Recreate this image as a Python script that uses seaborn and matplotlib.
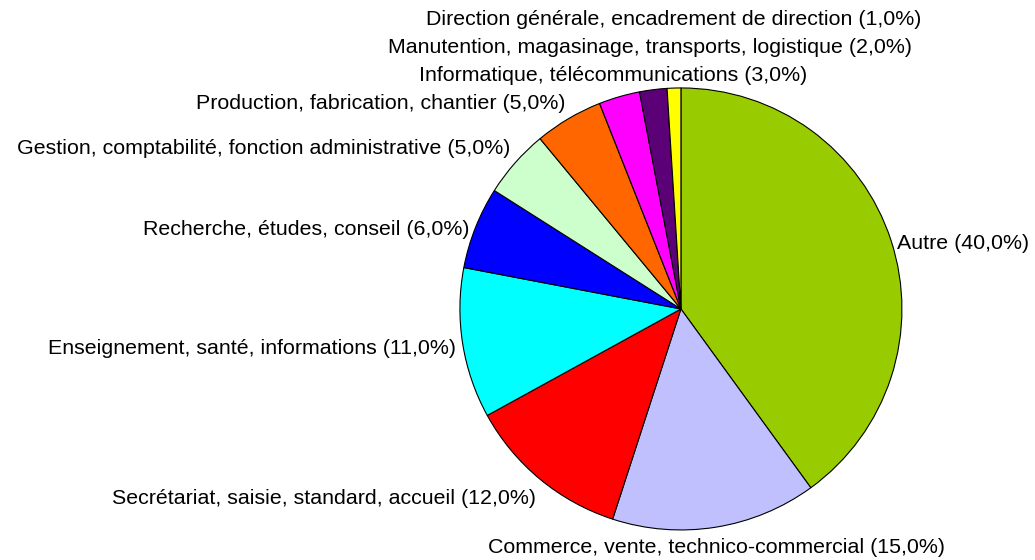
import matplotlib
matplotlib.use("Agg")
import matplotlib.pyplot as plt
import seaborn as sns
import numpy as np

# %% Data
categories = [
    "Autre",
    "Commerce, vente, technico-commercial",
    "Secrétariat, saisie, standard, accueil",
    "Enseignement, santé, informations",
    "Recherche, études, conseil",
    "Gestion, comptabilité, fonction administrative",
    "Production, fabrication, chantier",
    "Informatique, télécommunications",
    "Manutention, magasinage, transports, logistique",
    "Direction générale, encadrement de direction",
]
values = [40, 15, 12, 11, 6, 5, 5, 3, 2, 1]
colors = ["#99CC00", "#C0C0FF", "#FF0000", "#00FFFF", "#0000FF",
          "#CCFFCC", "#FF6600", "#FF00FF", "#5C0078", "#FFFF00"]

labels = [f"{c} ({v:.1f}%)".replace(".", ",") for c, v in zip(categories, values)]

# %% Plot
sns.set_theme(style="white")
plt.rcParams['font.family'] = ['Liberation Sans', 'DejaVu Sans']

fig = plt.figure(figsize=(10.35, 5.6), dpi=100)
ax = fig.add_axes([0, 0, 1, 1])

wedges, _ = ax.pie(values, colors=colors, startangle=90, counterclock=False,
                   radius=1,
                   wedgeprops=dict(edgecolor="black", linewidth=0.8))

ax.set_xlim(-3.081, 1.602)
ax.set_ylim(-1.136, 1.398)
ax.set_aspect("equal")
ax.axis("off")

#-- labels outside the slices, small top slices stacked upwards
fs = 15.4
stack_y = None
line_step = 28 / 221
for w, lab, v in zip(wedges, labels, values):
    ang = np.deg2rad((w.theta1 + w.theta2) / 2)
    c, s = np.cos(ang), np.sin(ang)
    if v <= 3:
        if stack_y is None:
            stack_y = 1.1 * s
        else:
            stack_y += line_step
        ax.text(1.1 * c, stack_y, lab, ha="center", va="center",
                fontsize=fs, color="black")
        continue

    r = 1.03
    if abs(c) < 0.3:
        ha = "center"
    else:
        ha = "left" if c > 0 else "right"
    dy = -0.02
    if s < -0.5:
        va = "top"
    elif s > 0.5:
        va = "bottom"
        dy = 0
    else:
        va = "center"
    ax.text(r * c, r * s + dy, lab, ha=ha, va=va, fontsize=fs, color="black")

fig.savefig("out.png", dpi=100)
plt.close(fig)
